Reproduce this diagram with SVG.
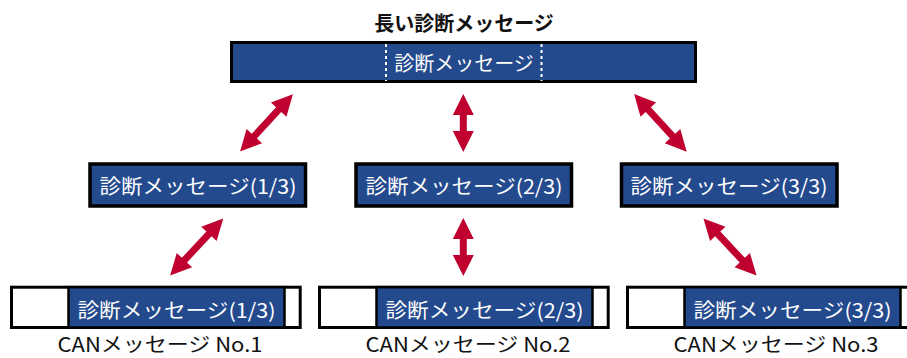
<svg xmlns="http://www.w3.org/2000/svg" width="907" height="358" viewBox="0 0 907 358">
<style>
.t{font-family:"Noto Sans CJK JP","Noto Sans",sans-serif;font-size:20px;}
.w{fill:#ffffff;}
.k{fill:#111111;}
.box{fill:#244a8e;stroke:#000000;stroke-width:3.5;}
.outer{fill:#ffffff;stroke:#000000;stroke-width:3;}
.inner{fill:#244a8e;stroke:#000000;stroke-width:2.5;}
.arr{fill:#c0002f;}
.dash{stroke:#ffffff;stroke-width:2;stroke-dasharray:3 3;}
</style>
<defs>
<path id="aV" d="M0,-29 L10.5,-8 L3.5,-8 L3.5,8 L10.5,8 L0,29 L-10.5,8 L-3.5,8 L-3.5,-8 L-10.5,-8 Z"/>
<path id="aD" d="M0,-39 L10.5,-18 L3.5,-18 L3.5,18 L10.5,18 L0,39 L-10.5,18 L-3.5,18 L-3.5,-18 L-10.5,-18 Z"/>
</defs>
<g id="title">
<text class="t k" x="464" y="31" text-anchor="middle" font-weight="bold">長い診断メッセージ</text>
</g>
<g id="long-msg">
<rect x="231.5" y="42.5" width="464" height="39" fill="#244a8e" stroke="#000" stroke-width="3"/>
<line class="dash" x1="386" y1="44" x2="386" y2="81"/>
<line class="dash" x1="541.5" y1="44" x2="541.5" y2="81"/>
<text class="t w" x="464" y="71" text-anchor="middle">診断メッセージ</text>
</g>
<g id="part1">
<rect class="box" x="90" y="164" width="215.5" height="42"/>
<text class="t w" x="198" y="194" text-anchor="middle" textLength="197" lengthAdjust="spacingAndGlyphs">診断メッセージ(1/3)</text>
</g>
<g id="part2">
<rect class="box" x="356" y="164" width="215.5" height="42"/>
<text class="t w" x="464" y="194" text-anchor="middle" textLength="197" lengthAdjust="spacingAndGlyphs">診断メッセージ(2/3)</text>
</g>
<g id="part3">
<rect class="box" x="621.5" y="164" width="215.5" height="42"/>
<text class="t w" x="729" y="194" text-anchor="middle" textLength="197" lengthAdjust="spacingAndGlyphs">診断メッセージ(3/3)</text>
</g>
<g id="can1">
<rect class="outer" x="11.5" y="287.2" width="288.7" height="40.3"/>
<rect class="inner" x="68.5" y="287.2" width="216" height="40.3"/>
<text class="t w" x="176.5" y="318" text-anchor="middle" textLength="198" lengthAdjust="spacingAndGlyphs">診断メッセージ(1/3)</text>
<text class="t k" x="160" y="352" text-anchor="middle" textLength="205" lengthAdjust="spacingAndGlyphs">CANメッセージ No.1</text>
</g>
<g id="can2">
<rect class="outer" x="319.5" y="287.2" width="288.7" height="40.3"/>
<rect class="inner" x="376.5" y="287.2" width="216" height="40.3"/>
<text class="t w" x="484.5" y="318" text-anchor="middle" textLength="198" lengthAdjust="spacingAndGlyphs">診断メッセージ(2/3)</text>
<text class="t k" x="468" y="352" text-anchor="middle" textLength="205" lengthAdjust="spacingAndGlyphs">CANメッセージ No.2</text>
</g>
<g id="can3">
<rect class="outer" x="627.5" y="287.2" width="288.7" height="40.3"/>
<rect class="inner" x="684.5" y="287.2" width="216" height="40.3"/>
<text class="t w" x="792.5" y="318" text-anchor="middle" textLength="198" lengthAdjust="spacingAndGlyphs">診断メッセージ(3/3)</text>
<text class="t k" x="776" y="352" text-anchor="middle" textLength="205" lengthAdjust="spacingAndGlyphs">CANメッセージ No.3</text>
</g>
<g id="connectors" class="arr">
<use href="#aD" transform="translate(266.5,122.9) rotate(42.6)"/>
<use href="#aV" transform="translate(463.3,122.9)"/>
<use href="#aD" transform="translate(660.4,122.9) rotate(-42.4)"/>
<use href="#aD" transform="translate(196.7,247) rotate(42.9)"/>
<use href="#aV" transform="translate(463.3,247)"/>
<use href="#aD" transform="translate(730,247) rotate(-42.9)"/>
</g>
</svg>
